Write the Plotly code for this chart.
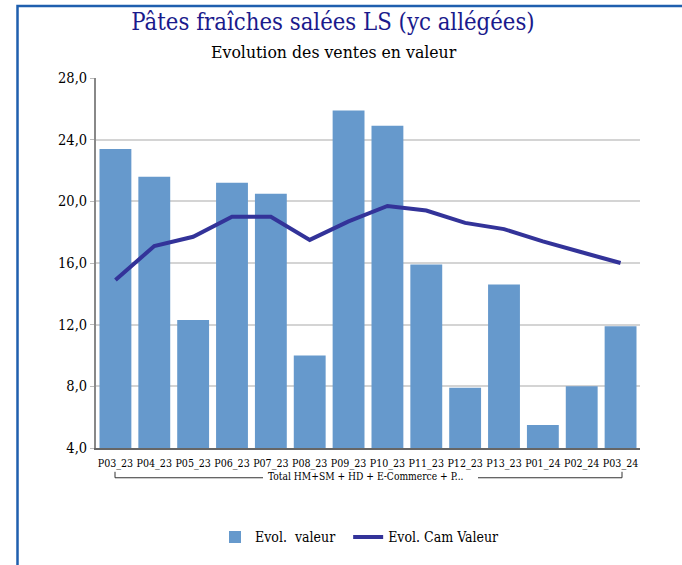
import plotly.graph_objects as go

categories = ["P03_23", "P04_23", "P05_23", "P06_23", "P07_23", "P08_23", "P09_23",
              "P10_23", "P11_23", "P12_23", "P13_23", "P01_24", "P02_24", "P03_24"]
evol_valeur = [23.4, 21.6, 12.3, 21.2, 20.5, 10.0, 25.9, 24.9, 15.9, 7.9, 14.6, 5.5, 8.0, 11.9]
evol_cam_valeur = [14.9, 17.1, 17.7, 19.0, 19.0, 17.5, 18.7, 19.7, 19.4, 18.6, 18.2, 17.4, 16.7, 16.0]
y_ticks = [4, 8, 12, 16, 20, 24, 28]
group_label = "Total HM+SM + HD + E-Commerce + P..."

W, H = 682, 565
L, R, T, B = 96, 42, 78, 114
pw, ph = W - L - R, H - T - B

def px_x(p):
    return (p - L) / pw

def px_y(p):
    return (H - B - p) / ph

FONT = "DejaVu Serif Condensed, DejaVu Serif"

fig = go.Figure()
fig.add_trace(go.Bar(x=categories, y=evol_valeur, name="Evol.  valeur\u00a0\u00a0",
                     marker=dict(color="#6699cc", line=dict(width=0))))
fig.add_trace(go.Scatter(x=categories, y=evol_cam_valeur, name="Evol. Cam Valeur",
                         mode="lines", line=dict(color="#333399", width=4)))

shapes = []
# frame
shapes.append(dict(type="rect", xref="paper", yref="paper",
                   x0=px_x(17.5), x1=px_x(700), y0=px_y(600), y1=px_y(5.5),
                   line=dict(color="#1f5fae", width=2.5), fillcolor="rgba(0,0,0,0)", layer="below"))
# bracket
by0, by1 = 475, 481
shapes.append(dict(type="path", xref="paper", yref="paper",
                   path=f"M {px_x(115)},{px_y(by0)} L {px_x(115)},{px_y(by1)} L {px_x(263)},{px_y(by1)}",
                   line=dict(color="#333333", width=1)))
shapes.append(dict(type="path", xref="paper", yref="paper",
                   path=f"M {px_x(478)},{px_y(by1)} L {px_x(622)},{px_y(by1)} L {px_x(622)},{px_y(by0)}",
                   line=dict(color="#333333", width=1)))

annotations = [
    dict(text="Evolution des ventes en valeur", xref="paper", yref="paper",
         x=px_x(334), y=px_y(52), xanchor="center", yanchor="middle", showarrow=False,
         font=dict(family=FONT, size=17.5, color="#000000")),
    dict(text=group_label, xref="paper", yref="paper",
         x=px_x(366), y=px_y(479.5), xanchor="center", yanchor="middle", showarrow=False,
         font=dict(family=FONT, size=10.2, color="#000000")),
]

fig.update_layout(
    width=W, height=H,
    margin=dict(l=L, r=R, t=T, b=B),
    paper_bgcolor="white", plot_bgcolor="white",
    separators=", ",
    font=dict(family=FONT, color="#000000"),
    title=dict(text="Pâtes fraîches salées LS (yc allégées)", x=333 / W, xref="container",
               xanchor="center", y=1 - 22 / H, yref="container", yanchor="middle",
               font=dict(family=FONT, size=23.7, color="#1a1a8c")),
    bargap=0.18,
    showlegend=True,
    legend=dict(orientation="h", x=px_x(360), xanchor="center", y=px_y(541), yanchor="middle",
                font=dict(family=FONT, size=14, color="#000000"), itemwidth=30),
    xaxis=dict(type="category", range=[-0.5, len(categories) - 0.5], showgrid=False,
               showline=True, linecolor="#666666", linewidth=2, ticks="", tickangle=0,
               ticklabelstandoff=4,
               tickfont=dict(family=FONT, size=10.6, color="#000000")),
    yaxis=dict(range=[4, 28], tickvals=y_ticks, tickformat=".1f", showgrid=True,
               gridcolor="#d4d4d4", gridwidth=1.5, showline=True, linecolor="#888888",
               linewidth=2, ticks="outside", ticklen=4, tickcolor="#bbbbbb",
               zeroline=False, tickfont=dict(family=FONT, size=14.5, color="#000000")),
    shapes=shapes, annotations=annotations,
)

fig.write_html("out.html", post_script="document.body.style.margin='0';",
               config={"displayModeBar": False})
